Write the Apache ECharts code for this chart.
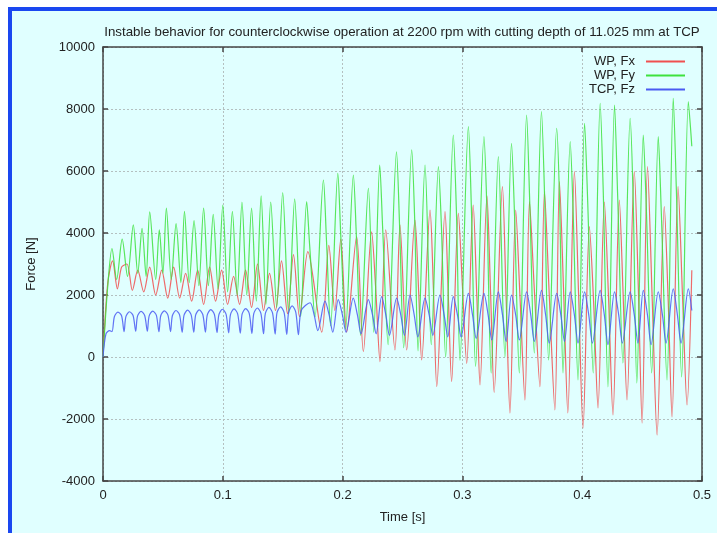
<!DOCTYPE html>
<html><head><meta charset="utf-8">
<script src="https://cdn.jsdelivr.net/npm/echarts@6/dist/echarts.min.js"></script>
<style>html,body{margin:0;padding:0;background:#fff}#c{width:717px;height:533px}</style>
</head><body><div id="c"></div>
<script>
const titleText = 'Instable behavior for counterclockwise operation at 2200 rpm with cutting depth of 11.025 mm at TCP';
const seriesNames = ['WP, Fx', 'WP, Fy', 'TCP, Fz'];
const xLabel = 'Time [s]';
const yLabel = 'Force [N]';
const xTicks = [0, 0.1, 0.2, 0.3, 0.4, 0.5];
const yTicks = [-4000, -2000, 0, 2000, 4000, 6000, 8000, 10000];

// WP, Fx  [time s, force N]
const fx = [[0,0],[0.004,2400],[0.008,3100],[0.012,2200],[0.0155,2900],[0.02,3000],[0.0245,2150],[0.029,2800],[0.034,2100],[0.039,2900],[0.044,2000],[0.049,2800],[0.054,1900],[0.059,2900],[0.064,1900],[0.069,2700],[0.074,1800],[0.079,2800],[0.084,1700],[0.089,2900],[0.094,1800],[0.099,2800],[0.104,1700],[0.109,2600],[0.114,1700],[0.119,2800],[0.124,1600],[0.129,3000],[0.134,1500],[0.139,2700],[0.144,1500],[0.149,3100],[0.154,1400],[0.159,3300],[0.164,1300],
[0.171,3400],[0.1826,800],[0.1885,3600],[0.1935,1500],[0.1985,3800],[0.2034,800],[0.2117,3880],[0.2173,171],[0.2242,4040],[0.2275,2300],[0.2312,-151],[0.236,4100],[0.2437,226],[0.2479,4260],[0.2535,226],[0.2604,4420],[0.2635,2100],[0.266,-97],[0.273,4740],[0.2758,2200],[0.2786,-958],[0.2855,4690],[0.2882,2000],[0.291,-796],[0.2966,4630],[0.3,2300],[0.3036,-204],[0.309,4900],[0.312,2000],[0.3147,-903],[0.3205,5200],[0.3235,2100],[0.3265,-1140],[0.3334,5495],[0.3365,1900],[0.3397,-1806],[0.3445,4742],[0.348,2000],[0.3522,-1387],[0.356,5011],[0.36,2200],[0.3647,-958],[0.3685,5333],[0.3725,2000],[0.3772,-1710],[0.381,5656],[0.3845,2100],[0.388,-1806],[0.3935,5978],[0.397,2000],[0.4007,-2290],[0.406,4204],[0.4095,1800],[0.4132,-1645],[0.4185,5000],[0.422,1900],[0.4257,-1871],[0.431,5065],[0.434,2200],[0.4374,-1387],[0.4435,5978],[0.4468,2300],[0.45,-2129],[0.4545,6140],[0.4585,1800],[0.4625,-2516],[0.4685,4849],[0.4718,1800],[0.475,-1935],[0.48,5500],[0.4838,1900],[0.4875,-1548],[0.4915,2800]];

// WP, Fy
const fy = [[0,0],[0.004,2300],[0.0075,3500],[0.0114,2500],[0.016,3800],[0.0205,2600],[0.0253,4260],[0.029,2700],[0.0326,4150],[0.036,2600],[0.039,4680],[0.044,2500],[0.047,4100],[0.05,2700],[0.0529,4800],[0.057,2500],[0.061,4300],[0.065,2400],[0.068,4700],[0.072,2400],[0.076,4400],[0.08,2300],[0.084,4800],[0.088,2300],[0.092,4600],[0.096,2200],[0.1,4900],[0.104,2100],[0.108,4700],[0.112,2000],[0.116,5000],[0.12,2000],[0.124,4800],[0.128,1800],[0.132,5200],[0.136,1700],[0.14,5000],[0.145,1600],[0.15,5300],[0.155,1400],[0.16,5100],[0.165,1300],
[0.170,5010],[0.1725,3600],[0.177,1300],[0.184,5710],[0.1865,3800],[0.19,1000],[0.196,5925],[0.1985,3900],[0.2025,900],[0.209,5870],[0.2115,3900],[0.215,700],[0.2215,5440],[0.226,800],[0.231,6190],[0.2335,4100],[0.238,400],[0.245,6620],[0.2475,4300],[0.251,300],[0.2577,6680],[0.2602,4400],[0.263,200],[0.2688,6190],[0.274,400],[0.280,6140],[0.2825,4200],[0.286,0],[0.2924,7160],[0.295,4700],[0.298,-100],[0.305,7430],[0.3075,4800],[0.311,-300],[0.318,7106],[0.3205,4700],[0.324,-516],[0.330,6461],[0.3355,0],[0.341,6893],[0.3435,4600],[0.3475,-516],[0.3536,7806],[0.3562,5000],[0.36,129],[0.366,7913],[0.3686,5200],[0.372,-97],[0.3787,7376],[0.3812,4900],[0.384,-516],[0.39,6946],[0.3925,4600],[0.3965,-742],[0.402,7538],[0.4046,5000],[0.4092,-516],[0.415,8183],[0.4176,5300],[0.4215,-967],[0.427,8129],[0.4296,5200],[0.434,-194],[0.44,7700],[0.4426,5000],[0.4456,-839],[0.451,7161],[0.4536,4700],[0.458,-516],[0.4635,7106],[0.466,4700],[0.4708,-742],[0.476,8344],[0.4786,5400],[0.483,-645],[0.4886,8236],[0.4915,6800]];

// TCP, Fz
const fz = [[0,0],[0.0025,750],[0.0055,850],[0.0075,820],[0.0095,1300],[0.0125,1450],[0.0155,1330],[0.0176,820],
[0.0191,1300],[0.0221,1460],[0.0251,1340],[0.0273,830],
[0.0288,1320],[0.0318,1470],[0.0348,1340],[0.037,830],
[0.0385,1320],[0.0415,1480],[0.0445,1350],[0.0467,820],
[0.0482,1330],[0.0512,1490],[0.0542,1350],[0.0564,820],
[0.0579,1330],[0.0609,1500],[0.0639,1360],[0.0661,800],
[0.0676,1340],[0.0706,1510],[0.0736,1360],[0.0758,800],
[0.0773,1350],[0.0803,1520],[0.0833,1370],[0.0855,800],
[0.087,1350],[0.09,1530],[0.093,1370],[0.0952,790],
[0.0967,1360],[0.0997,1540],[0.1027,1380],[0.1049,780],
[0.1064,1370],[0.1094,1550],[0.1124,1390],[0.1146,770],
[0.1161,1380],[0.1191,1560],[0.1221,1400],[0.1243,760],
[0.1258,1390],[0.1288,1580],[0.1318,1410],[0.134,750],
[0.1355,1400],[0.1385,1600],[0.1415,1420],[0.1437,740],
[0.1452,1420],[0.1482,1620],[0.1512,1430],[0.1534,730],
[0.1549,1430],[0.1579,1650],[0.1609,1450],[0.1631,720],
[0.1655,1500],[0.1728,1750],[0.1763,1350],[0.1793,850],
[0.1853,1800],[0.1888,1350],[0.1918,800],
[0.1964,1850],[0.1999,1350],[0.2029,800],
[0.2089,1900],[0.2124,1350],[0.2154,750],
[0.2215,1850],[0.225,1350],[0.228,750],
[0.2326,1950],[0.2361,1350],[0.2391,700],
[0.2451,1900],[0.2486,1350],[0.2516,700],
[0.2563,2000],[0.2598,1350],[0.2628,650],
[0.2688,1900],[0.2723,1350],[0.2753,700],
[0.2813,2000],[0.2848,1350],[0.2878,650],
[0.2924,1950],[0.2959,1350],[0.2989,650],
[0.305,2050],[0.3085,1350],[0.3115,600],
[0.318,2050],[0.3215,1350],[0.3245,550],
[0.330,2100],[0.3335,1350],[0.3365,500],
[0.341,2000],[0.3445,1350],[0.3475,550],
[0.3536,2100],[0.3571,1350],[0.36,500],
[0.366,2150],[0.3695,1350],[0.3725,450],
[0.3787,2050],[0.3822,1350],[0.3852,500],
[0.39,2100],[0.3935,1350],[0.3965,450],
[0.402,2100],[0.4055,1350],[0.4085,450],
[0.415,2150],[0.4185,1350],[0.4215,400],
[0.427,2100],[0.4305,1350],[0.4335,450],
[0.44,2100],[0.4435,1350],[0.4465,450],
[0.451,2150],[0.4545,1350],[0.4575,400],
[0.4635,2100],[0.467,1350],[0.47,450],
[0.476,2200],[0.4795,1350],[0.4825,450],
[0.4886,2200],[0.4915,1500]];

const colors = ['#f05050', '#3ee23e', '#4a5af2'];
const FONT = 'Liberation Sans';

const chart = echarts.init(document.getElementById('c'), null, {renderer: 'canvas'});
const axisCommon = {
  type: 'value',
  axisLine: {show: true, onZero: false, lineStyle: {color: '#454545', width: 1.5}},
  axisTick: {show: true, inside: true, length: 5, lineStyle: {color: '#454545', width: 1.5}},
  splitLine: {show: false},
  axisLabel: {show: false}
};
const gridLine = {show: true, lineStyle: {color: '#b4c0c0', type: [2, 2], width: 1}};
const data = [fx, fy, fz];
chart.setOption({
  animation: false,
  backgroundColor: '#ffffff',
  graphic: [
    {type: 'rect', shape: {x: 8, y: 7, width: 709, height: 526}, style: {fill: '#1a47f0'}, z: -10, silent: true},
    {type: 'rect', shape: {x: 12, y: 11, width: 705, height: 522}, style: {fill: '#e0ffff'}, z: -9, silent: true}
  ],
  title: {text: titleText, left: 397, top: 21, textAlign: 'center',
    textStyle: {fontFamily: FONT, fontSize: 13.3, fontWeight: 'normal', color: '#222'}},
  legend: seriesNames.map((n, i) => ({
    data: [n], right: 32, top: 55 + i * 14, align: 'right', orient: 'vertical',
    itemWidth: 39, itemHeight: 2, icon: 'rect', itemGap: 0, padding: 0,
    textStyle: {fontFamily: FONT, fontSize: 13, color: '#222', padding: [0, 6, 0, 0]}
  })),
  grid: {left: 103, right: 15, top: 47, bottom: 52, containLabel: false},
  xAxis: [
    Object.assign({}, axisCommon, {min: xTicks[0], max: xTicks[xTicks.length - 1], interval: 0.1, position: 'bottom',
      name: xLabel, nameLocation: 'middle', nameGap: 30,
      nameTextStyle: {fontFamily: FONT, fontSize: 13, color: '#222'},
      axisLabel: {show: true, fontFamily: FONT, fontSize: 13, color: '#222', margin: 8,
        formatter: v => String(Math.round(v * 10) / 10)},
      splitLine: gridLine}),
    Object.assign({}, axisCommon, {min: xTicks[0], max: xTicks[xTicks.length - 1], interval: 0.1, position: 'top'})
  ],
  yAxis: [
    Object.assign({}, axisCommon, {min: yTicks[0], max: yTicks[yTicks.length - 1], interval: 2000, position: 'left',
      name: yLabel, nameLocation: 'middle', nameGap: 65, nameRotate: 90,
      nameTextStyle: {fontFamily: FONT, fontSize: 13, color: '#222'},
      axisLabel: {show: true, fontFamily: FONT, fontSize: 13, color: '#222', margin: 8,
        formatter: v => String(v)},
      splitLine: gridLine}),
    Object.assign({}, axisCommon, {min: yTicks[0], max: yTicks[yTicks.length - 1], interval: 2000, position: 'right'})
  ],
  series: seriesNames.map((n, i) => ({
    name: n, type: 'line', data: data[i], showSymbol: false, symbol: 'none',
    smooth: 0.3, color: colors[i],
    lineStyle: {width: 1.2, color: colors[i], opacity: 0.85},
    z: 3 + i
  }))
});
</script></body></html>
